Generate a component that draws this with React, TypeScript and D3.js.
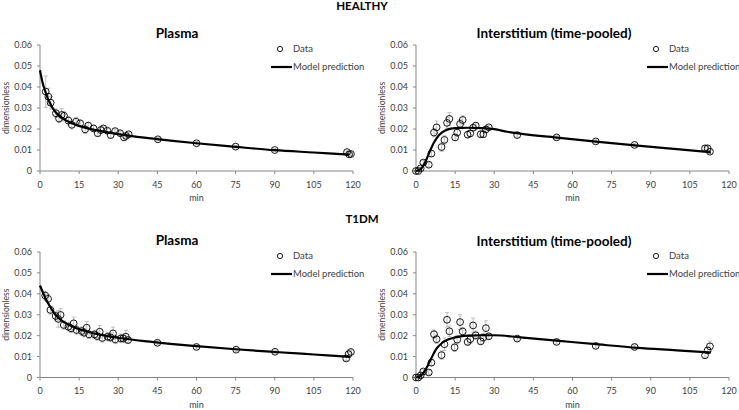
import React from "react";
import * as d3 from "d3";

// ---------- DATA ----------
const xTicks = [0, 15, 30, 45, 60, 75, 90, 105, 120];
const yTicks = [0, 0.01, 0.02, 0.03, 0.04, 0.05, 0.06];
const groupTitles = ["HEALTHY", "T1DM"];
const panelTitles = ["Plasma", "Interstitium (time-pooled)"];

// Healthy plasma: time, value, error
const hpT = [2.2, 3.2, 4.1, 6.1, 7.3, 8.3, 9.2, 10.9, 12.2, 13.8, 15.4, 17.3, 18.5, 20.5, 22.1, 23.3, 24.3, 25.8, 27.1, 28.8, 30.7, 32.2, 33, 34, 45.2, 60, 75, 90, 117.7, 118.5, 119.2];
const hpV = [0.0378, 0.0354, 0.0325, 0.0275, 0.025, 0.0267, 0.0263, 0.024, 0.022, 0.0235, 0.0227, 0.0198, 0.0216, 0.0203, 0.018, 0.0195, 0.0203, 0.0192, 0.0171, 0.019, 0.018, 0.016, 0.0167, 0.0175, 0.0151, 0.0132, 0.0116, 0.01, 0.009, 0.0079, 0.0081];
const hpE = [0.0075, 0.004, 0.003, 0.002, 0.002, 0.003, 0.002, 0.002, 0.002, 0.002, 0.0015, 0.002, 0.0015, 0.0015, 0.0015, 0.0015, 0.001, 0.001, 0.0015, 0.001, 0.001, 0.0015, 0.001, 0.001, 0.0008, 0.0008, 0.0006, 0.0006, 0.0006, 0.0006, 0.0005];
const hpMT = [0, 1, 2, 3, 4, 5, 6, 8, 10, 12, 15, 20, 25, 30, 40, 50, 60, 75, 90, 105, 118.5];
const hpMV = [0.048, 0.042, 0.038, 0.0345, 0.032, 0.0297, 0.028, 0.0257, 0.0241, 0.0229, 0.0215, 0.0198, 0.0186, 0.0176, 0.0159, 0.0145, 0.0132, 0.0115, 0.0099, 0.0088, 0.0078];

// Healthy interstitium
const hiT = [0, 0.9, 1.8, 2.8, 4.9, 5.9, 6.9, 7.9, 9.8, 10.9, 11.9, 12.8, 15, 15.8, 16.9, 17.9, 19.8, 20.8, 21.9, 22.9, 24.8, 25.8, 26.8, 27.9, 38.8, 53.9, 68.9, 83.8, 110.8, 111.8, 112.7];
const hiV = [0, 0, 0.0013, 0.004, 0.003, 0.0083, 0.0183, 0.0208, 0.0114, 0.0148, 0.0229, 0.0248, 0.016, 0.0183, 0.0224, 0.0243, 0.0173, 0.0179, 0.0206, 0.0216, 0.0175, 0.0175, 0.0198, 0.0208, 0.0171, 0.016, 0.0141, 0.0124, 0.0108, 0.0108, 0.0092];
const hiE = [0, 0, 0.0005, 0.001, 0.001, 0.0015, 0.002, 0.003, 0.002, 0.002, 0.0025, 0.003, 0.0015, 0.002, 0.002, 0.002, 0.0015, 0.0015, 0.0015, 0.0015, 0.0015, 0.0015, 0.0015, 0.001, 0.001, 0.0008, 0.0008, 0.0008, 0.001, 0.001, 0.0008];
const hiMT = [0, 1, 2, 3, 4, 5, 6, 7, 8, 10, 12, 15, 20, 25, 30, 35, 40, 55, 70, 85, 100, 113];
const hiMV = [0, 0.0003, 0.0012, 0.003, 0.0055, 0.0085, 0.0113, 0.0138, 0.0158, 0.0184, 0.0197, 0.0204, 0.0206, 0.0204, 0.0199, 0.0187, 0.0178, 0.0158, 0.0139, 0.0121, 0.0104, 0.0089];

// T1DM plasma
const tpT = [2, 3.1, 4, 6, 7, 7.9, 9.1, 10.9, 11.9, 12.9, 14, 16, 16.9, 17.9, 18.8, 20.9, 21.9, 22.9, 23.9, 25.9, 27, 28, 28.9, 31, 31.9, 32.9, 33.8, 45, 60, 75.2, 90.1, 117.4, 118.3, 119.2];
const tpV = [0.0392, 0.0376, 0.0323, 0.0294, 0.028, 0.0299, 0.0251, 0.0243, 0.0235, 0.0259, 0.0227, 0.0222, 0.0214, 0.0238, 0.0206, 0.0206, 0.0198, 0.0219, 0.0189, 0.0195, 0.0192, 0.0211, 0.0182, 0.0187, 0.0187, 0.0195, 0.0179, 0.0166, 0.0146, 0.0133, 0.0123, 0.0091, 0.0112, 0.0122];
const tpE = [0.002, 0.002, 0.002, 0.002, 0.004, 0.003, 0.002, 0.002, 0.002, 0.003, 0.002, 0.002, 0.002, 0.003, 0.002, 0.002, 0.002, 0.003, 0.002, 0.002, 0.002, 0.003, 0.002, 0.002, 0.002, 0.003, 0.0015, 0.001, 0.001, 0.0008, 0.0008, 0.001, 0.001, 0.001];
const tpMT = [0, 1, 2, 3, 4, 5, 6, 8, 10, 12, 15, 20, 25, 30, 40, 50, 60, 75, 90, 105, 119];
const tpMV = [0.044, 0.041, 0.0382, 0.0357, 0.0336, 0.0316, 0.0299, 0.0276, 0.0259, 0.0246, 0.0231, 0.0213, 0.02, 0.019, 0.0174, 0.0161, 0.015, 0.0135, 0.0122, 0.011, 0.0099];

// T1DM interstitium
const tiT = [0, 0.9, 1.8, 2.8, 4.9, 5.9, 6.9, 7.9, 9.8, 10.9, 11.9, 12.8, 14.8, 15.8, 16.9, 17.9, 19.8, 20.8, 21.9, 22.9, 24.8, 25.8, 26.8, 27.9, 38.8, 53.9, 68.9, 83.8, 110.8, 111.8, 112.7];
const tiV = [0, 0, 0.001, 0.0029, 0.0024, 0.0071, 0.0207, 0.0183, 0.0107, 0.0159, 0.0276, 0.0221, 0.0144, 0.0181, 0.0265, 0.022, 0.017, 0.0183, 0.0249, 0.0202, 0.0173, 0.0191, 0.0236, 0.0197, 0.0186, 0.017, 0.0151, 0.0146, 0.0106, 0.013, 0.0149];
const tiE = [0, 0, 0.0005, 0.001, 0.001, 0.0015, 0.002, 0.002, 0.002, 0.003, 0.0035, 0.0025, 0.002, 0.002, 0.0035, 0.002, 0.0015, 0.002, 0.0035, 0.002, 0.0015, 0.002, 0.0035, 0.0015, 0.0012, 0.001, 0.001, 0.001, 0.001, 0.0015, 0.0025];
const tiMT = [0, 1, 2, 3, 4, 5, 6, 7, 8, 10, 12, 15, 20, 25, 30, 40, 55, 70, 85, 100, 113];
const tiMV = [0, 0.0003, 0.001, 0.0025, 0.0045, 0.007, 0.0095, 0.012, 0.014, 0.0165, 0.018, 0.0192, 0.02, 0.0202, 0.0202, 0.0192, 0.0175, 0.0158, 0.0142, 0.013, 0.0119];

// ---------- LAYOUT ----------
const W = 739;
const H = 410;
const FONT = "Lato, 'Open Sans', sans-serif";
const TXT = "#404040";

type Panel = {
  x0: number; x1: number; yTop: number; yBot: number;
  title: string; titleX: number; titleY: number; yLabelX: number;
  t: number[]; v: number[]; e: number[]; mt: number[]; mv: number[];
};

const panels: Panel[] = [
  { x0: 40, x1: 353, yTop: 45, yBot: 171, title: panelTitles[0], titleX: 177, titleY: 38, yLabelX: 9, t: hpT, v: hpV, e: hpE, mt: hpMT, mv: hpMV },
  { x0: 416, x1: 729, yTop: 45, yBot: 171, title: panelTitles[1], titleX: 554, titleY: 38, yLabelX: 385, t: hiT, v: hiV, e: hiE, mt: hiMT, mv: hiMV },
  { x0: 40, x1: 353, yTop: 252, yBot: 377.5, title: panelTitles[0], titleX: 177, titleY: 245, yLabelX: 9, t: tpT, v: tpV, e: tpE, mt: tpMT, mv: tpMV },
  { x0: 416, x1: 729, yTop: 252, yBot: 377.5, title: panelTitles[1], titleX: 554, titleY: 246, yLabelX: 385, t: tiT, v: tiV, e: tiE, mt: tiMT, mv: tiMV },
];

function ChartPanel({ p }: { p: Panel }) {
  const x = d3.scaleLinear().domain([0, 120]).range([p.x0, p.x1]);
  const y = d3.scaleLinear().domain([0, 0.06]).range([p.yBot, p.yTop]);
  const line = d3
    .line<number>()
    .x((_, i) => x(p.mt[i]))
    .y((d) => y(d))
    .curve(d3.curveMonotoneX);
  const legX = p.x0 + 241;
  return (
    <g>
      <text x={p.titleX} y={p.titleY} textAnchor="middle" fontWeight="bold" fontSize={13.5} fill="#000">
        {p.title}
      </text>
      {/* axes */}
      <line x1={p.x0} x2={p.x0} y1={p.yTop} y2={p.yBot} stroke="#868686" strokeWidth={1} />
      <line x1={p.x0} x2={p.x1} y1={p.yBot} y2={p.yBot} stroke="#868686" strokeWidth={1} />
      {yTicks.map((t) => (
        <g key={"y" + t}>
          <line x1={p.x0 - 3} x2={p.x0} y1={y(t)} y2={y(t)} stroke="#868686" />
          <text x={p.x0 - 8} y={y(t)} dy="0.34em" textAnchor="end" fontSize={9} fill={TXT}>
            {t === 0 ? "0" : d3.format(".2f")(t)}
          </text>
        </g>
      ))}
      {xTicks.map((t) => (
        <g key={"x" + t}>
          <line x1={x(t)} x2={x(t)} y1={p.yBot} y2={p.yBot + 3} stroke="#868686" />
          <text x={x(t)} y={p.yBot + 16.5} textAnchor="middle" fontSize={9} fill={TXT}>
            {t}
          </text>
        </g>
      ))}
      <text x={(p.x0 + p.x1) / 2} y={p.yBot + 30} textAnchor="middle" fontSize={9} fill={TXT}>
        min
      </text>
      <text
        transform={`translate(${p.yLabelX},${(p.yTop + p.yBot) / 2}) rotate(-90)`}
        textAnchor="middle"
        fontSize={8.5}
        fill={TXT}
      >
        dimensionless
      </text>
      {/* error bars */}
      {p.t.map((t, i) =>
        p.e[i] > 0 ? (
          <g key={"e" + i} stroke="#b0b0b0" strokeWidth={0.8}>
            <line x1={x(t)} x2={x(t)} y1={y(p.v[i] - p.e[i])} y2={y(p.v[i] + p.e[i])} />
            <line x1={x(t) - 2} x2={x(t) + 2} y1={y(p.v[i] - p.e[i])} y2={y(p.v[i] - p.e[i])} />
            <line x1={x(t) - 2} x2={x(t) + 2} y1={y(p.v[i] + p.e[i])} y2={y(p.v[i] + p.e[i])} />
          </g>
        ) : null
      )}
      {/* data markers */}
      {p.t.map((t, i) => (
        <circle key={"c" + i} cx={x(t)} cy={y(p.v[i])} r={3.4} fill="none" stroke="#000" strokeWidth={0.9} />
      ))}
      {/* model */}
      <path d={line(p.mv) || ""} fill="none" stroke="#000" strokeWidth={2.2} />
      {/* legend */}
      <circle cx={legX - 1} cy={p.yTop + 4} r={2.6} fill="none" stroke="#000" strokeWidth={0.9} />
      <text x={legX + 12} y={p.yTop + 4} dy="0.34em" fontSize={9.5} fill={TXT}>
        Data
      </text>
      <line x1={legX - 10} x2={legX + 11} y1={p.yTop + 22} y2={p.yTop + 22} stroke="#000" strokeWidth={2.2} />
      <text x={legX + 12} y={p.yTop + 22} dy="0.34em" fontSize={9.5} fill={TXT}>
        Model prediction
      </text>
    </g>
  );
}

export default function App() {
  return (
    <svg
      width={W}
      height={H}
      style={{ position: "absolute", left: 0, top: 0, background: "#fff" }}
      fontFamily={FONT}
    >
      <rect width={W} height={H} fill="#fff" />
      <text x={362} y={10} textAnchor="middle" fontWeight="bold" fontSize={11.5} fill="#000">
        {groupTitles[0]}
      </text>
      <text x={362} y={223} textAnchor="middle" fontWeight="bold" fontSize={11.5} fill="#000">
        {groupTitles[1]}
      </text>
      {panels.map((p, i) => (
        <ChartPanel key={i} p={p} />
      ))}
    </svg>
  );
}
